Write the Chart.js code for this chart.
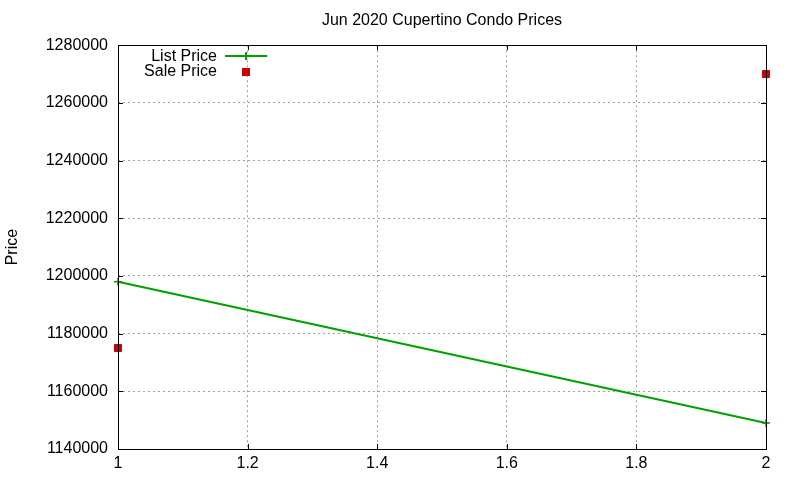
<!DOCTYPE html>
<html>
<head>
<meta charset="utf-8">
<script src="https://cdn.jsdelivr.net/npm/chart.js@4/dist/chart.umd.min.js"></script>
<style>
  html, body { margin: 0; padding: 0; background: #fff; }
  #wrap { width: 800px; height: 480px; }
</style>
</head>
<body>
<div id="wrap"><canvas id="myChart" width="800" height="480"></canvas></div>
<script>
const xValues = [1, 2];
const listPrice = [1198000, 1149000];
const salePrice = [1175000, 1270000];
const seriesNames = ["List Price", "Sale Price"];
const titleText = "Jun 2020 Cupertino Condo Prices";
const yTitle = "Price";

const green = "#00a000";
const red = "#cc0000";
const font = "Liberation Sans, Arial, sans-serif";

function toPoints(ys) {
  return xValues.map((x, i) => ({ x: x, y: ys[i] }));
}

// frame, inward ticks and the gnuplot style key
const frame = {
  id: "frame",
  afterDatasetsDraw(chart) {
    const c = chart.ctx;
    const a = chart.chartArea;
    const xs = chart.scales.x;
    const ys = chart.scales.y;
    c.save();
    c.strokeStyle = "#000";
    c.lineWidth = 1;
    c.beginPath();
    xs.ticks.forEach((t) => {
      const px = Math.round(xs.getPixelForValue(t.value)) + 0.5;
      c.moveTo(px, a.bottom); c.lineTo(px, a.bottom - 5);
      c.moveTo(px, a.top); c.lineTo(px, a.top + 5);
    });
    ys.ticks.forEach((t) => {
      const py = Math.round(ys.getPixelForValue(t.value)) + 0.5;
      c.moveTo(a.left, py); c.lineTo(a.left + 5, py);
      c.moveTo(a.right, py); c.lineTo(a.right - 5, py);
    });
    c.stroke();
    c.strokeRect(Math.round(a.left) + 0.5, Math.round(a.top) + 0.5,
      Math.round(a.right - a.left), Math.round(a.bottom - a.top));

    // key
    c.font = "16px " + font;
    c.fillStyle = "#000";
    c.textAlign = "right";
    c.textBaseline = "alphabetic";
    c.fillText(seriesNames[0], 217, 61);
    c.fillText(seriesNames[1], 217, 76);
    c.strokeStyle = green;
    c.lineWidth = 2;
    c.beginPath();
    c.moveTo(225, 56); c.lineTo(267, 56);
    c.moveTo(246, 52); c.lineTo(246, 60);
    c.stroke();
    c.fillStyle = red;
    c.fillRect(242, 68, 8, 8);
    c.restore();
  }
};

new Chart(document.getElementById("myChart"), {
  type: "scatter",
  data: {
    datasets: [
      {
        label: seriesNames[0],
        data: toPoints(listPrice),
        showLine: true,
        borderColor: green,
        backgroundColor: green,
        borderWidth: 2,
        pointStyle: "cross",
        pointRadius: 4,
        pointBorderWidth: 1.5,
        clip: false,
      },
      {
        label: seriesNames[1],
        data: toPoints(salePrice),
        showLine: false,
        borderColor: red,
        backgroundColor: red,
        pointStyle: "rect",
        pointRadius: 5,
        pointBorderWidth: 1,
        clip: false,
      },
    ],
  },
  options: {
    responsive: false,
    animation: false,
    devicePixelRatio: 1,
    layout: { padding: { left: 0, right: 34, top: 0, bottom: 0 } },
    plugins: {
      legend: { display: false },
      tooltip: { enabled: false },
      title: {
        display: true,
        text: titleText,
        fullSize: false,
        color: "#000",
        font: { family: font, size: 16, weight: "normal", lineHeight: 1.2 },
        padding: { top: 11, bottom: 15 },
      },
    },
    scales: {
      x: {
        type: "linear",
        min: 1,
        max: 2,
        afterFit(s) { s.height = 31; },
        ticks: {
          stepSize: 0.2,
          color: "#000",
          padding: 5,
          maxRotation: 0,
          font: { family: font, size: 16 },
          callback: (v) => String(+v.toFixed(1)),
        },
        grid: {
          color: "#a0a0a0",
          lineWidth: 1,
          drawTicks: false,
        },
        border: { display: false, dash: [2, 3] },
      },
      y: {
        type: "linear",
        min: 1140000,
        max: 1280000,
        afterFit(s) { s.width = 118; },
        title: {
          display: true,
          text: yTitle,
          color: "#000",
          font: { family: font, size: 16, lineHeight: 1.2 },
          padding: { top: 3, bottom: 0 },
        },
        ticks: {
          stepSize: 20000,
          color: "#000",
          padding: 10,
          font: { family: font, size: 16 },
          callback: (v) => String(v),
        },
        grid: {
          color: "#a0a0a0",
          lineWidth: 1,
          drawTicks: false,
        },
        border: { display: false, dash: [2, 3] },
      },
    },
  },
  plugins: [frame],
});
</script>
</body>
</html>
